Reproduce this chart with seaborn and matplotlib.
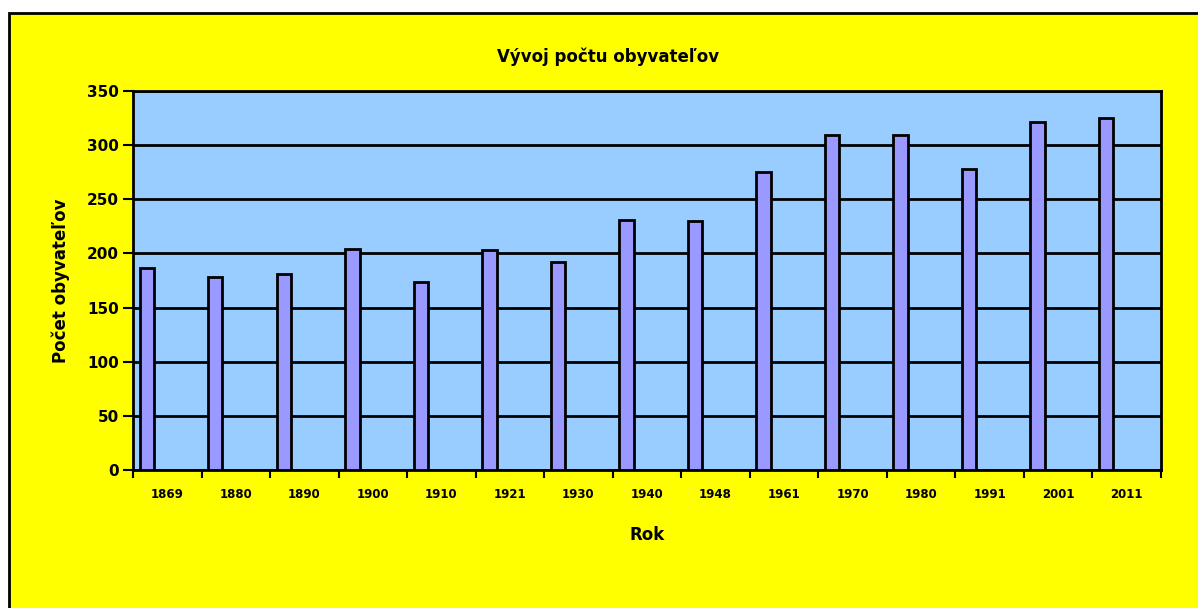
import numpy as np
import pandas as pd
import matplotlib
matplotlib.use("Agg")
import matplotlib.pyplot as plt
from matplotlib.patches import Rectangle
import seaborn as sns

# data
years = ["1869", "1880", "1890", "1900", "1910", "1921", "1930", "1940",
         "1948", "1961", "1970", "1980", "1991", "2001", "2011"]
population = [187, 178, 181, 204, 174, 203, 192, 231, 230, 275, 309, 309, 278, 321, 325]
y_ticks = [0, 50, 100, 150, 200, 250, 300, 350]

sns.set_style("white")
plt.rcParams['font.family'] = ['DejaVu Sans']
plt.rcParams['text.color'] = 'black'
plt.rcParams['axes.labelcolor'] = 'black'
plt.rcParams['xtick.color'] = 'black'
plt.rcParams['ytick.color'] = 'black'

W, H = 1198, 608
fig = plt.figure(figsize=(W / 100, H / 100), dpi=100, facecolor="white")

# yellow chart frame
fig.patches.append(Rectangle((9 / W, -0.05), 1.1, 1 - 13 / H + 0.05,
                             transform=fig.transFigure, facecolor="#FFFF00",
                             edgecolor="black", linewidth=2, zorder=-1))

ax = fig.add_axes([133 / W, 1 - 470 / H, (1161 - 133) / W, (470 - 91) / H])
ax.set_zorder(2)
ax.set_facecolor("#99CCFF")

# bars sit left of the category centre, like in the original chart
df = pd.DataFrame({"pos": np.arange(len(years)) - 0.30, "pop": population})
sns.barplot(data=df, x="pos", y="pop", native_scale=True, width=0.21,
            color="#9999FF", edgecolor="black", linewidth=2, saturation=1,
            ax=ax, zorder=3)

ax.set_xlim(-0.5, len(years) - 0.5)
ax.set_ylim(0, 350)
ax.set_yticks(y_ticks)
ax.set_yticklabels([str(v) for v in y_ticks], fontsize=11, fontweight="bold")
ax.yaxis.grid(True, color="black", linewidth=2, zorder=1)
ax.set_axisbelow(True)

ax.set_xticks(np.arange(len(years)))
ax.set_xticklabels(years, fontsize=8.5, fontweight="bold")
ax.set_xticks(np.arange(len(years) + 1) - 0.5, minor=True)
ax.tick_params(axis="x", which="major", length=0, pad=13)
ax.tick_params(axis="x", which="minor", length=6, width=1.5, direction="out", bottom=True)
ax.tick_params(axis="y", length=7, width=1.5, direction="out", left=True, pad=3)

for s in ax.spines.values():
    s.set_color("black")
    s.set_linewidth(2)

ax.set_xlabel("Rok", fontsize=12, fontweight="bold", labelpad=18)
ax.set_ylabel("Počet obyvateľov", fontsize=12, fontweight="bold", labelpad=12)
fig.text(608 / W, 1 - 57 / H, "Vývoj počtu obyvateľov", ha="center", va="center",
         fontsize=12, fontweight="bold")

fig.savefig("out.png", dpi=100, facecolor=fig.get_facecolor())
